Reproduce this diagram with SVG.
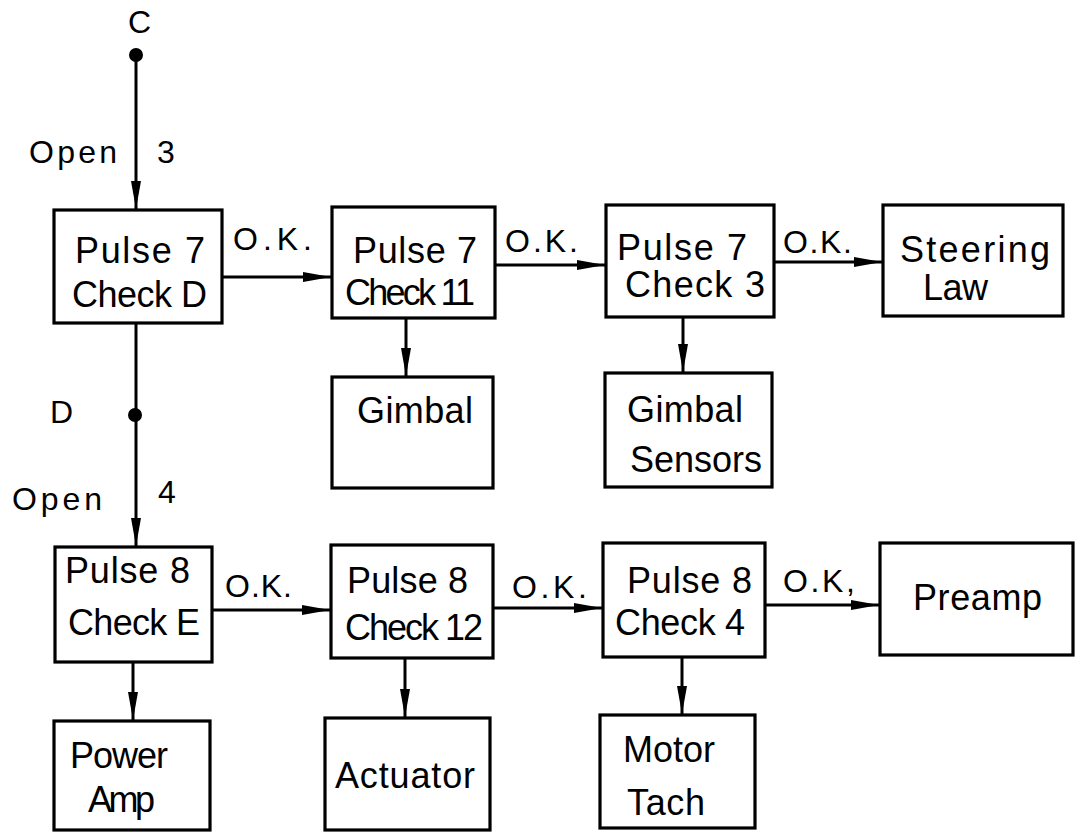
<svg xmlns="http://www.w3.org/2000/svg" width="1077" height="833" viewBox="0 0 1077 833">
<defs>
<style>
.box{fill:#fff;stroke:#000;stroke-width:3.2}
.t{font-family:"Liberation Sans",Arial,sans-serif;font-size:36px;fill:#000}
.s{font-family:"Liberation Sans",Arial,sans-serif;font-size:32px;fill:#000}
.c{stroke:#000;stroke-width:3;fill:none}
</style>
<marker id="ah" markerUnits="userSpaceOnUse" markerWidth="30" markerHeight="12" refX="28" refY="6" orient="auto">
<path d="M0,1 L28,6 L0,11 Z" fill="#000"/>
</marker>
</defs>
<rect width="1077" height="833" fill="#fff"/>

<g id="connectors">
<line class="c" x1="136" y1="55" x2="136" y2="209" marker-end="url(#ah)"/>
<circle cx="136" cy="55" r="7" fill="#000"/>
<line class="c" x1="136" y1="323" x2="136" y2="546" marker-end="url(#ah)"/>
<circle cx="135" cy="415" r="7" fill="#000"/>
<line class="c" x1="222" y1="277" x2="331" y2="277" marker-end="url(#ah)"/>
<line class="c" x1="495" y1="265" x2="605" y2="265" marker-end="url(#ah)"/>
<line class="c" x1="774" y1="262" x2="882" y2="262" marker-end="url(#ah)"/>
<line class="c" x1="406" y1="318" x2="406" y2="376" marker-end="url(#ah)"/>
<line class="c" x1="683" y1="317" x2="683" y2="372" marker-end="url(#ah)"/>
<line class="c" x1="212" y1="610" x2="330" y2="610" marker-end="url(#ah)"/>
<line class="c" x1="493" y1="608" x2="602" y2="608" marker-end="url(#ah)"/>
<line class="c" x1="765" y1="605" x2="879" y2="605" marker-end="url(#ah)"/>
<line class="c" x1="133" y1="662" x2="133" y2="720" marker-end="url(#ah)"/>
<line class="c" x1="405" y1="658" x2="405" y2="717" marker-end="url(#ah)"/>
<line class="c" x1="682" y1="657" x2="682" y2="714" marker-end="url(#ah)"/>
<text class="s" x="128" y="33" font-size="30" textLength="19">C</text>
<text class="s" x="29" y="163" textLength="88">Open</text>
<text class="s" x="157" y="163" textLength="18">3</text>
<text class="s" x="50" y="423" font-size="30" textLength="19">D</text>
<text class="s" x="12" y="510" textLength="90">Open</text>
<text class="s" x="158" y="503" textLength="20">4</text>
<text class="s" x="233" y="250" textLength="79">O.K.</text>
<text class="s" x="505" y="252" textLength="73">O.K.</text>
<text class="s" x="783" y="253" textLength="69">O.K.</text>
<text class="s" x="225" y="597" textLength="67">O.K.</text>
<text class="s" x="512" y="598" textLength="75">O.K.</text>
<text class="s" x="783" y="592" textLength="72">O.K,</text>
</g>

<g id="p7d"><rect class="box" x="54" y="210" width="168" height="113"/>
<text class="t" x="75" y="263" textLength="130">Pulse 7</text>
<text class="t" x="72" y="307" textLength="135">Check D</text></g>

<g id="p7c11"><rect class="box" x="332" y="207" width="163" height="111"/>
<text class="t" x="353" y="263" textLength="124">Pulse 7</text>
<text class="t" x="345" y="305" font-size="32" textLength="130">Check 11</text></g>

<g id="p7c3"><rect class="box" x="606" y="205" width="168" height="112"/>
<text class="t" x="617" y="260" textLength="130">Pulse 7</text>
<text class="t" x="625" y="297" textLength="140">Check 3</text></g>

<g id="steering"><rect class="box" x="883" y="205" width="180" height="111"/>
<text class="t" x="900" y="262" font-size="38" textLength="150">Steering</text>
<text class="t" x="923" y="300" font-size="38" textLength="65">Law</text></g>

<g id="gimbal"><rect class="box" x="332" y="377" width="161" height="111"/>
<text class="t" x="357" y="423" textLength="116">Gimbal</text></g>

<g id="gimbalsensors"><rect class="box" x="605" y="373" width="167" height="114"/>
<text class="t" x="627" y="422" textLength="116">Gimbal</text>
<text class="t" x="630" y="472" textLength="132">Sensors</text></g>

<g id="p8e"><rect class="box" x="55" y="547" width="157" height="115"/>
<text class="t" x="65" y="583" textLength="125">Pulse 8</text>
<text class="t" x="68" y="635" textLength="132">Check E</text></g>

<g id="p8c12"><rect class="box" x="331" y="545" width="162" height="113"/>
<text class="t" x="347" y="593" textLength="121">Pulse 8</text>
<text class="t" x="345" y="640" font-size="34" textLength="138">Check 12</text></g>

<g id="p8c4"><rect class="box" x="603" y="543" width="162" height="114"/>
<text class="t" x="627" y="593" textLength="125">Pulse 8</text>
<text class="t" x="615" y="635" textLength="130">Check 4</text></g>

<g id="preamp"><rect class="box" x="880" y="543" width="193" height="112"/>
<text class="t" x="913" y="610" textLength="129">Preamp</text></g>

<g id="poweramp"><rect class="box" x="54" y="721" width="156" height="109"/>
<text class="t" x="70" y="768" font-size="32" textLength="98">Power</text>
<text class="t" x="88" y="812" font-size="32" textLength="67">Amp</text></g>

<g id="actuator"><rect class="box" x="325" y="718" width="165" height="112"/>
<text class="t" x="335" y="788" font-size="34" textLength="140">Actuator</text></g>

<g id="motortach"><rect class="box" x="600" y="715" width="155" height="113"/>
<text class="t" x="623" y="762" font-size="34" textLength="92">Motor</text>
<text class="t" x="627" y="815" font-size="34" textLength="78">Tach</text></g>
</svg>
